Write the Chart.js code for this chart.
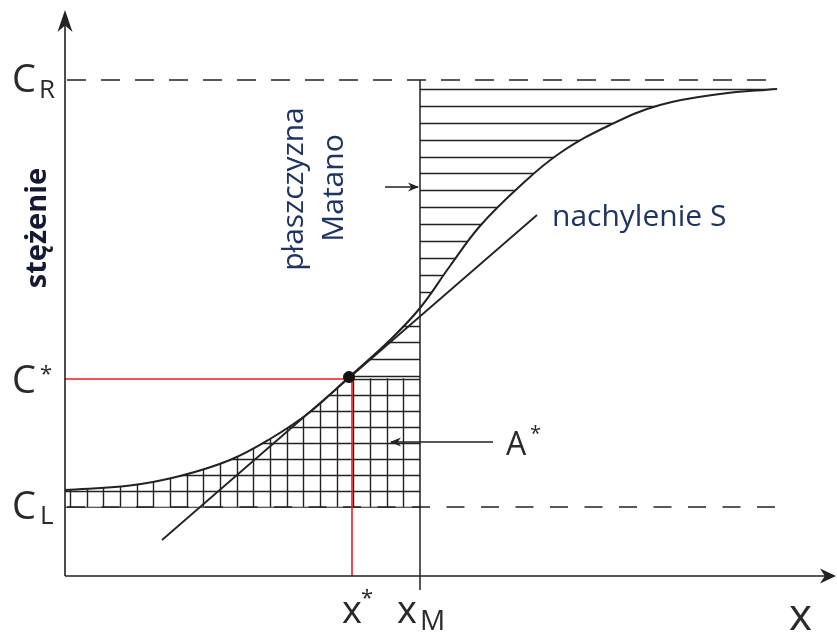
<!DOCTYPE html>
<html>
<head>
<meta charset="utf-8">
<script src="https://cdn.jsdelivr.net/npm/chart.js@4.4.0/dist/chart.umd.min.js"></script>
<style>
html, body { margin: 0; padding: 0; background: #fff; }
</style>
</head>
<body>
<canvas id="matano" width="837" height="640"></canvas>
<script>
// profil stężenia C(x)
const curveX = [0, 6.5, 11.5, 16.5, 20.5, 24.5, 28.3, 32.5, 35.5, 38.5, 41.5, 45.5, 49.5, 54.5, 59.5, 65.5, 71.2];
const curveC = [8.6, 9.05, 10.0, 11.6, 13.7, 16.4, 19.8, 23.6, 26.8, 31.0, 35.0, 39.0, 42.3, 45.1, 47.1, 48.2, 48.7];
// styczna (nachylenie S)
const tangentX = [9.7, 47.2];
const tangentC = [3.6, 36.1];
// poziomy i położenia
const C_R = 49.6, C_STAR = 19.7, C_L = 6.9;
const X_STAR = 28.7, X_M = 35.5, X_END = 71.2;
const dotX = 28.4, dotC = 19.9;
// strzałki opisów
const matanoArrowX = [32.0, 35.3], matanoArrowC = 38.9;
const aStarArrowX = [42.8, 32.6], aStarArrowC = 13.4;
// kreskowanie
const gridStartX = 0.5, gridStepX = 1.667, gridStepC = 1.6, hatchStepC = 1.69;

const pts = (xs, cs) => xs.map((x, i) => ({ x: x, y: cs[i] }));
const INK = '#222';

function arrowHead(ctx, tx, ty, dx, dy, len, half) {
    const nx = -dy, ny = dx;
    ctx.beginPath();
    ctx.moveTo(tx, ty);
    ctx.lineTo(tx - dx * len + nx * half, ty - dy * len + ny * half);
    ctx.lineTo(tx - dx * len * 0.7, ty - dy * len * 0.7);
    ctx.lineTo(tx - dx * len - nx * half, ty - dy * len - ny * half);
    ctx.closePath();
    ctx.fill();
}

function curvePath(ctx, p) {
    ctx.moveTo(p[0].x, p[0].y);
    for (let i = 1; i < p.length; i++) {
        const a = p[i - 1], b = p[i];
        ctx.bezierCurveTo(a.cp2x, a.cp2y, b.cp1x, b.cp1y, b.x, b.y);
    }
}

const hatchPlugin = {
    id: 'hatch',
    beforeDatasetsDraw(chart) {
        const ctx = chart.ctx, xs = chart.scales.x, ys = chart.scales.y;
        const meta = chart.getDatasetMeta(1);
        meta.dataset.updateControlPoints(chart.chartArea, 'x');
        const p = meta.data;
        const first = p[0], last = p[p.length - 1];
        const xM = xs.getPixelForValue(X_M), x0 = xs.getPixelForValue(0);
        const yS = ys.getPixelForValue(C_STAR), yL = ys.getPixelForValue(C_L);

        ctx.save();
        ctx.strokeStyle = INK;
        ctx.lineWidth = 1.4;

        // obszar nad C* między krzywą a płaszczyzną Matano
        ctx.save();
        ctx.beginPath();
        curvePath(ctx, p);
        ctx.lineTo(last.x + 2, last.y - 1.5);
        ctx.lineTo(xM, last.y - 1.5);
        ctx.lineTo(xM, first.y);
        ctx.closePath();
        ctx.clip();
        ctx.beginPath();
        ctx.rect(0, 0, chart.width, yS);
        ctx.clip();
        ctx.beginPath();
        for (let c = curveC[curveC.length - 1]; c >= C_STAR; c -= hatchStepC) {
            const y = Math.round(ys.getPixelForValue(c)) + 0.5;
            ctx.moveTo(x0, y);
            ctx.lineTo(last.x + 3, y);
        }
        ctx.stroke();
        ctx.restore();

        // siatka A* pod C*
        ctx.save();
        ctx.beginPath();
        curvePath(ctx, p);
        ctx.lineTo(last.x, yL + 1);
        ctx.lineTo(first.x, yL + 1);
        ctx.closePath();
        ctx.clip();
        ctx.beginPath();
        ctx.rect(x0, yS - 0.8, xM - x0, yL - yS + 1.6);
        ctx.clip();
        ctx.beginPath();
        for (let x = gridStartX; x <= X_M + 0.01; x += gridStepX) {
            const px = Math.round(xs.getPixelForValue(x)) + 0.5;
            ctx.moveTo(px, yS - 1);
            ctx.lineTo(px, yL + 1);
        }
        for (let c = C_L; c <= C_STAR + 0.01; c += gridStepC) {
            const y = Math.round(ys.getPixelForValue(c)) + 0.5;
            ctx.moveTo(x0, y);
            ctx.lineTo(xM, y);
        }
        ctx.stroke();
        ctx.restore();
        ctx.restore();
    },
    afterDatasetsDraw(chart) {
        const ctx = chart.ctx, xs = chart.scales.x, ys = chart.scales.y;
        const x0 = xs.getPixelForValue(0), y0 = ys.getPixelForValue(0);
        ctx.save();
        ctx.strokeStyle = INK;
        ctx.fillStyle = INK;
        // osie
        ctx.lineWidth = 1.6;
        ctx.beginPath();
        ctx.moveTo(x0, y0);
        ctx.lineTo(x0, ys.top + 14);
        ctx.moveTo(x0, y0);
        ctx.lineTo(xs.right - 6, y0);
        ctx.stroke();
        arrowHead(ctx, x0, ys.top + 10, 0, -1, 22, 7.5);
        arrowHead(ctx, xs.right - 1, y0, 1, 0, 16, 7.5);
        // groty strzałek opisów
        arrowHead(ctx, xs.getPixelForValue(matanoArrowX[1]) + 1, ys.getPixelForValue(matanoArrowC), 1, 0, 11, 4.5);
        arrowHead(ctx, xs.getPixelForValue(aStarArrowX[1]) - 1, ys.getPixelForValue(aStarArrowC), -1, 0, 11, 4.5);

        // etykiety osi stężeń
        const font = (s, w) => (w || '') + ' ' + s + 'px "Open Sans", sans-serif';
        ctx.fillStyle = '#2a2a2a';
        ctx.textBaseline = 'alphabetic';
        ctx.textAlign = 'left';
        let y = ys.getPixelForValue(C_R);
        ctx.font = font(38); ctx.fillText('C', 12, y + 12);
        ctx.font = font(26); ctx.fillText('R', 39, y + 18);
        y = ys.getPixelForValue(C_STAR);
        ctx.font = font(38); ctx.fillText('C', 12, y + 14);
        ctx.font = font(22); ctx.fillText('*', 40, y + 2);
        y = ys.getPixelForValue(C_L);
        ctx.font = font(38); ctx.fillText('C', 12, y + 12);
        ctx.font = font(26); ctx.fillText('L', 40, y + 17);

        // etykiety osi x
        let x = xs.getPixelForValue(X_STAR);
        ctx.font = font(38); ctx.fillText('x', x - 10, y0 + 47);
        ctx.font = font(22); ctx.fillText('*', x + 9, y0 + 29);
        x = xs.getPixelForValue(X_M);
        ctx.font = font(38); ctx.fillText('x', x - 23, y0 + 47);
        ctx.font = font(28); ctx.fillText('M', x, y0 + 54);
        ctx.font = font(44); ctx.fillText('x', 789, y0 + 54);

        // A*
        ctx.font = font(32); ctx.fillText('A', 506, 455);
        ctx.font = font(20); ctx.fillText('*', 530, 440);

        // opisy
        ctx.fillStyle = '#1f3560';
        ctx.font = font(30); ctx.fillText('nachylenie S', 552, 226);
        ctx.textAlign = 'center';
        const vtext = (t, px, py, f, col) => {
            ctx.save();
            ctx.translate(px, py);
            ctx.rotate(-Math.PI / 2);
            ctx.font = f;
            ctx.fillStyle = col;
            ctx.fillText(t, 0, 0);
            ctx.restore();
        };
        vtext('płaszczyzna', 303, 189, font(30), '#1f3560');
        vtext('Matano', 343, 188, font(30), '#1f3560');
        vtext('stężenie', 46, 228, font(29, 'bold'), '#151a30');
        ctx.restore();
    }
};

const line = (data, extra) => Object.assign({
    data: data,
    showLine: true,
    borderColor: INK,
    borderWidth: 1.5,
    pointRadius: 0,
    fill: false
}, extra || {});

new Chart(document.getElementById('matano'), {
    type: 'scatter',
    data: {
        datasets: [
            { data: [{ x: dotX, y: dotC }], pointRadius: 5.5, backgroundColor: '#111', borderColor: '#111', showLine: false },
            line(pts(curveX, curveC), { tension: 0.4, borderWidth: 2 }),
            line(pts(tangentX, tangentC), { borderWidth: 1.8 }),
            line([{ x: 0, y: C_STAR }, { x: X_STAR, y: C_STAR }, { x: X_STAR, y: 0 }], { borderColor: '#ee1c25', borderWidth: 1.6 }),
            line([{ x: X_M, y: C_R }, { x: X_M, y: -1.4 }], { borderWidth: 1.5 }),
            line([{ x: 0.2, y: C_R }, { x: X_END, y: C_R }], { borderDash: [19, 15], borderWidth: 1.5 }),
            line([{ x: 0.2, y: C_L }, { x: X_END, y: C_L }], { borderDash: [18, 16.5], borderWidth: 1.5 }),
            line(pts(matanoArrowX, [matanoArrowC, matanoArrowC]), { borderWidth: 1.3 }),
            line(pts(aStarArrowX, [aStarArrowC, aStarArrowC]), { borderWidth: 1.3 })
        ]
    },
    options: {
        responsive: false,
        animation: false,
        layout: { padding: 0, autoPadding: false },
        scales: {
            x: { type: 'linear', min: -6.5, max: 77.2, display: false },
            y: { type: 'linear', min: -6.4, max: 57.6, display: false }
        },
        plugins: {
            legend: { display: false },
            tooltip: { enabled: false }
        }
    },
    plugins: [hatchPlugin]
});
</script>
</body>
</html>
